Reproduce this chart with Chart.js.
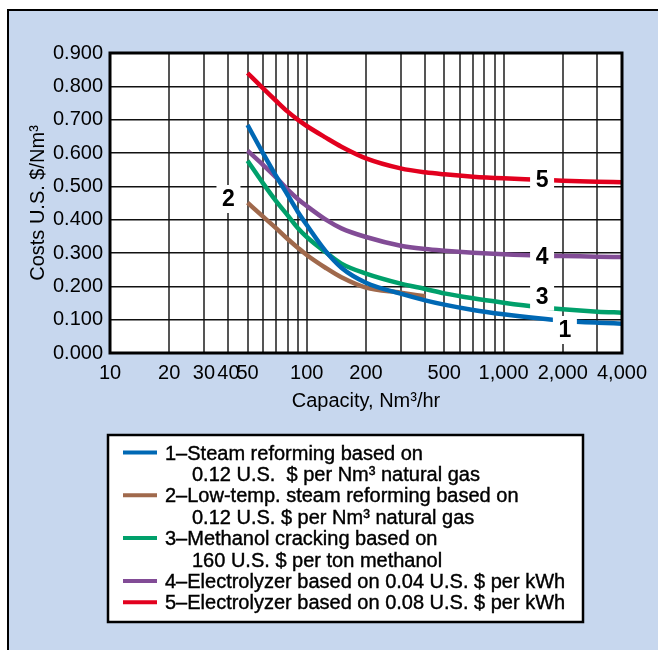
<!DOCTYPE html>
<html>
<head>
<meta charset="utf-8">
<script src="https://cdn.jsdelivr.net/npm/chart.js@4.4.1/dist/chart.umd.min.js"></script>
<style>
  html, body { margin: 0; padding: 0; background: #ffffff; }
  #wrap { width: 658px; height: 650px; }
</style>
</head>
<body>
<div id="wrap"><canvas id="myChart" width="658" height="650"></canvas></div>
<script>
// 容量 (Nm3/hr) と各曲線のコスト ($/Nm3)
const capacity = [50, 60, 70, 80, 90, 100, 125, 150, 200, 300, 400, 500, 700, 1000, 1500, 2000, 3000, 4000];
const steamReforming = [0.684, 0.599, 0.530, 0.474, 0.424, 0.384, 0.305, 0.256, 0.211, 0.178, 0.158, 0.145, 0.129, 0.116, 0.104, 0.097, 0.091, 0.088];
const lowTempCapacity = [50, 60, 70, 80, 90, 100, 125, 150, 200, 300, 400];
const lowTempReforming = [0.451, 0.409, 0.374, 0.342, 0.316, 0.294, 0.255, 0.227, 0.196, 0.181, 0.170];
const methanolCracking = [0.577, 0.509, 0.455, 0.413, 0.375, 0.348, 0.302, 0.268, 0.238, 0.208, 0.192, 0.179, 0.164, 0.151, 0.138, 0.131, 0.124, 0.121];
const electrolyzer004 = [0.607, 0.564, 0.526, 0.490, 0.462, 0.441, 0.400, 0.374, 0.348, 0.322, 0.312, 0.307, 0.301, 0.296, 0.292, 0.291, 0.289, 0.288];
const electrolyzer008 = [0.840, 0.794, 0.756, 0.724, 0.700, 0.681, 0.646, 0.619, 0.584, 0.554, 0.542, 0.536, 0.529, 0.524, 0.520, 0.517, 0.514, 0.512];

// 軸の目盛
const xGridValues = [10, 20, 30, 40, 50, 60, 70, 80, 90, 100, 200, 300, 400, 500, 600, 700, 800, 900, 1000, 2000, 3000, 4000];
const xTickLabels = [10, 20, 30, 40, 50, 100, 200, 500, 1000, 2000, 4000];
const yTickValues = [0, 0.1, 0.2, 0.3, 0.4, 0.5, 0.6, 0.7, 0.8, 0.9];
const yTickLabels = ["0.000", "0.100", "0.200", "0.300", "0.400", "0.500", "0.600", "0.700", "0.800", "0.900"];

// 曲線番号ラベル（データ座標）
const curveLabelText = ["1", "2", "3", "4", "5"];
const curveLabelX = [2050, 40, 1570, 1570, 1570];
const curveLabelY = [0.069, 0.462, 0.169, 0.289, 0.519];

// 凡例の文字列
const legendLines = [
  ["1–Steam reforming based on", "0.12 U.S.  $ per Nm³ natural gas"],
  ["2–Low-temp. steam reforming based on", "0.12 U.S. $ per Nm³ natural gas"],
  ["3–Methanol cracking based on", "160 U.S. $ per ton methanol"],
  ["4–Electrolyzer based on 0.04 U.S. $ per kWh"],
  ["5–Electrolyzer based on 0.08 U.S. $ per kWh"],
];

const colors = ["#0068b4", "#a0694c", "#00a06b", "#824c96", "#e2001e"];
const FONT = "'Liberation Sans', Arial, sans-serif";

function toPoints(xs, ys) {
  return xs.map((x, i) => ({ x: x, y: ys[i] }));
}

const seriesData = [
  toPoints(capacity, steamReforming),
  toPoints(lowTempCapacity, lowTempReforming),
  toPoints(capacity, methanolCracking),
  toPoints(capacity, electrolyzer004),
  toPoints(capacity, electrolyzer008),
];

// 背景・枠・凡例・番号ラベルを描くプラグイン
const decorPlugin = {
  id: "decor",
  beforeDraw(chart) {
    const ctx = chart.ctx;
    const area = chart.chartArea;
    ctx.save();
    ctx.fillStyle = "#ffffff";
    ctx.fillRect(0, 0, chart.width, chart.height);
    ctx.fillStyle = "#c7d7ee";
    ctx.fillRect(8, 10, chart.width - 8, chart.height - 10);
    ctx.strokeStyle = "#000000";
    ctx.lineWidth = 2;
    ctx.beginPath();
    ctx.moveTo(8, chart.height);
    ctx.lineTo(8, 10);
    ctx.lineTo(chart.width, 10);
    ctx.stroke();
    ctx.fillStyle = "#ffffff";
    ctx.fillRect(area.left, area.top, area.right - area.left, area.bottom - area.top);

    // 凡例ボックス
    ctx.fillStyle = "#ffffff";
    ctx.fillRect(108, 435, 475, 187);
    ctx.lineWidth = 2.5;
    ctx.strokeRect(108, 435, 475, 187);
    ctx.font = "20px " + FONT;
    ctx.textBaseline = "middle";
    ctx.textAlign = "left";
    let y = 454;
    legendLines.forEach((lines, i) => {
      ctx.strokeStyle = colors[i];
      ctx.lineWidth = 4;
      ctx.beginPath();
      ctx.moveTo(123, y - 1.5);
      ctx.lineTo(157, y - 1.5);
      ctx.stroke();
      lines.forEach((t, j) => {
        const tx = j === 0 ? 165 : 192;
        ctx.fillStyle = "#000000";
        ctx.fillText(t, tx, y);
        ctx.strokeStyle = "#000000";
        ctx.lineWidth = 0.4;
        ctx.strokeText(t, tx, y);
        y += 21.4;
      });
    });
    ctx.restore();
  },
  afterDatasetsDraw(chart) {
    const ctx = chart.ctx;
    const area = chart.chartArea;
    const xs = chart.scales.x;
    const ys = chart.scales.y;
    ctx.save();
    ctx.font = "bold 23px " + FONT;
    ctx.textAlign = "center";
    ctx.textBaseline = "middle";
    curveLabelText.forEach((t, i) => {
      const px = xs.getPixelForValue(curveLabelX[i]);
      const py = ys.getPixelForValue(curveLabelY[i]);
      ctx.fillStyle = "#ffffff";
      ctx.fillRect(px - 12, py - 14, 24, 28);
      ctx.fillStyle = "#000000";
      ctx.fillText(t, px, py + 1);
    });
    // プロット枠
    ctx.strokeStyle = "#000000";
    ctx.lineWidth = 3;
    ctx.strokeRect(area.left, area.top, area.right - area.left, area.bottom - area.top);
    ctx.restore();
  },
};

const ctx = document.getElementById("myChart").getContext("2d");
const myChart = new Chart(ctx, {
  type: "line",
  data: {
    datasets: seriesData.map((d, i) => ({
      label: curveLabelText[i],
      data: d,
      borderColor: colors[i],
      borderWidth: 4.5,
      pointRadius: 0,
      fill: false,
      cubicInterpolationMode: "monotone",
    })),
  },
  options: {
    responsive: false,
    animation: false,
    layout: { padding: { left: 0, top: 53, right: 36, bottom: 237 } },
    plugins: {
      legend: { display: false },
      tooltip: { enabled: false },
    },
    scales: {
      x: {
        type: "logarithmic",
        min: 10,
        max: 4000,
        afterBuildTicks: (scale) => {
          scale.ticks = xGridValues.map((v) => ({ value: v }));
        },
        afterFit: (scale) => {
          scale.height = 60;
        },
        ticks: {
          autoSkip: false,
          maxRotation: 0,
          padding: 8,
          color: "#000000",
          font: { family: FONT, size: 20 },
          callback: (value) =>
            xTickLabels.includes(value) ? value.toLocaleString("en-US") : "",
        },
        grid: { color: "#555555", lineWidth: 2, drawTicks: false },
        border: { display: false },
        title: {
          display: true,
          text: "Capacity, Nm³/hr",
          color: "#000000",
          font: { family: FONT, size: 20 },
          padding: { top: 0, bottom: 0 },
        },
      },
      y: {
        type: "linear",
        min: 0,
        max: 0.9,
        afterBuildTicks: (scale) => {
          scale.ticks = yTickValues.map((v) => ({ value: v }));
        },
        afterFit: (scale) => {
          scale.width = 110;
        },
        ticks: {
          padding: 7,
          color: "#000000",
          font: { family: FONT, size: 20 },
          callback: (value, index) => yTickLabels[index],
        },
        grid: { color: "#111111", lineWidth: 1.5, drawTicks: false },
        border: { display: false },
        title: {
          display: true,
          text: "Costs U.S. $/Nm³",
          color: "#000000",
          font: { family: FONT, size: 20 },
          padding: { top: 26, bottom: 0 },
        },
      },
    },
  },
  plugins: [decorPlugin],
});
</script>
</body>
</html>
